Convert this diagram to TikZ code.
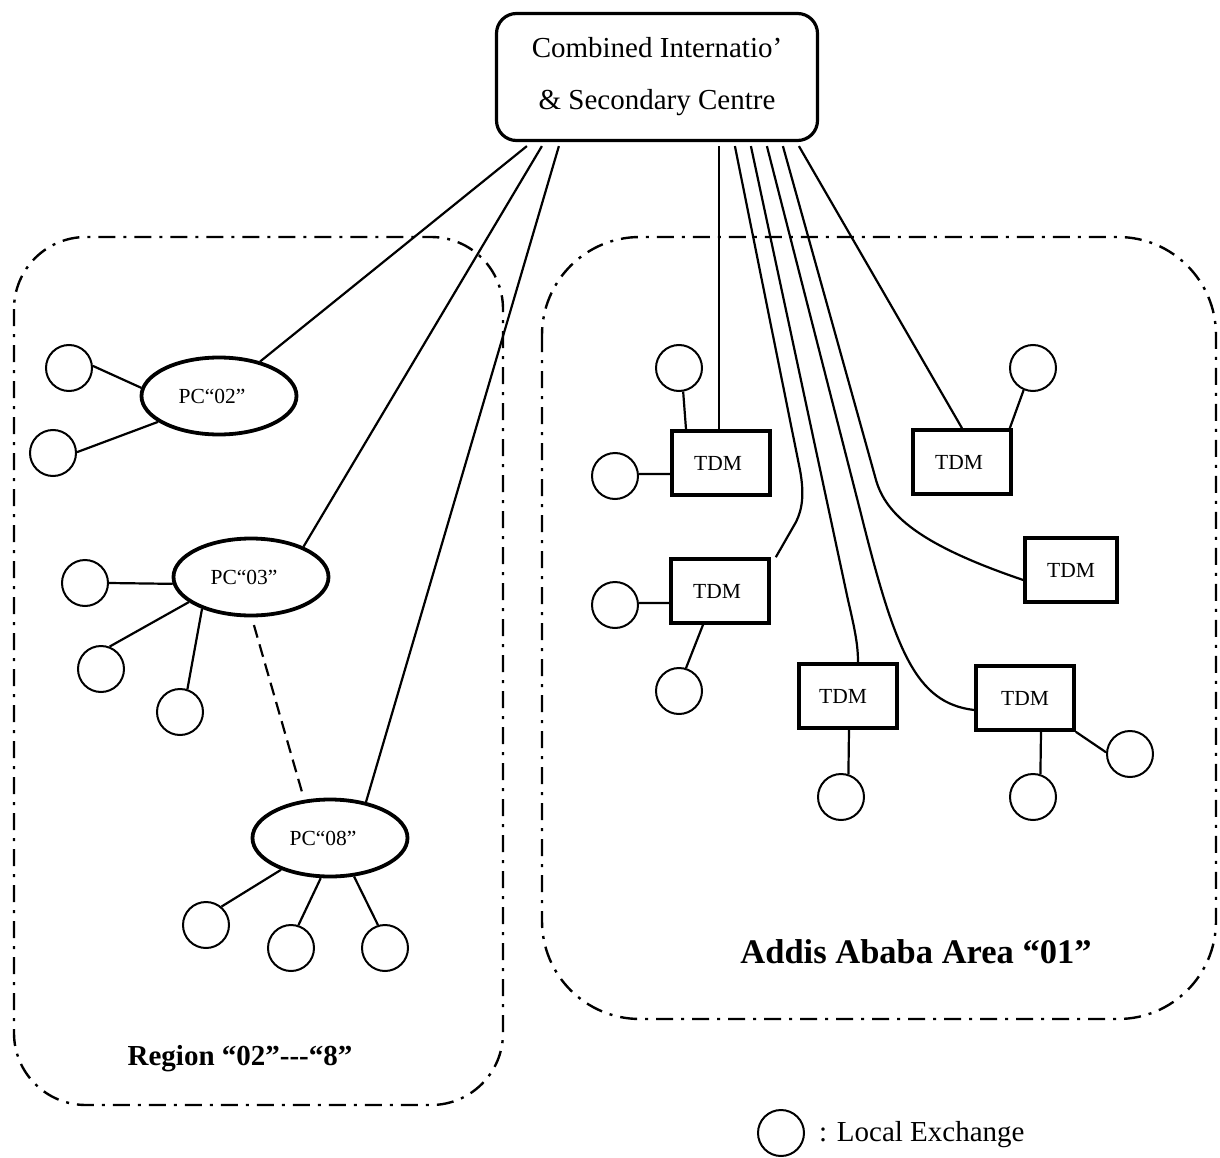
\documentclass[tikz,border=0pt]{standalone}
\usepackage{fontspec}
\setmainfont{Liberation Serif}
\usetikzlibrary{shapes.geometric}

\begin{document}
\begin{tikzpicture}[x=1pt,y=-1pt,
  conn/.style={line width=2.2pt},
  lex/.style={draw, circle, line width=2pt, minimum size=46pt, inner sep=0pt},
  pcnode/.style={draw, ellipse, line width=3.8pt, minimum width=155pt, minimum height=77pt,
                 inner sep=0pt, font=\fontsize{21.5}{24}\selectfont},
  tdm/.style={draw, rectangle, line width=3.6pt, minimum width=98pt, minimum height=64pt,
              inner sep=0pt, font=\fontsize{21.5}{24}\selectfont},
  area/.style={line width=2.4pt, dash pattern=on 17pt off 8pt on 3pt off 8pt},
  plain/.style={inner sep=0pt},
]
\useasboundingbox (0,0) rectangle (1220,1158);

% area outlines
\draw[area, rounded corners=72pt] (14,237) rectangle (503,1105);
\draw[area, rounded corners=98pt] (542,237) rectangle (1216,1019);

% centre exchange
\node[draw, rounded corners=20pt, line width=3.2pt, minimum width=321pt, minimum height=127pt,
      align=center, font=\fontsize{29}{52}\selectfont] (top) at (657,77)
      {Combined Internatio’\\\& Secondary Centre};

% trunk start points under the centre
\coordinate (s1) at ([xshift=32pt,yshift=-4pt]top.south west);
\coordinate (s2) at ([xshift=47pt,yshift=-4pt]top.south west);
\coordinate (s3) at ([xshift=64pt,yshift=-4pt]top.south west);
\coordinate (r1) at ([xshift=224pt,yshift=-4pt]top.south west);
\coordinate (r2) at ([xshift=240pt,yshift=-4pt]top.south west);
\coordinate (r3) at ([xshift=256pt,yshift=-4pt]top.south west);
\coordinate (r4) at ([xshift=272pt,yshift=-4pt]top.south west);
\coordinate (r5) at ([xshift=288pt,yshift=-4pt]top.south west);
\coordinate (r6) at ([xshift=304pt,yshift=-4pt]top.south west);

% regional primary centres
\node[pcnode] (pc02) at (219,396) {\hspace*{-14pt}PC“02”};
\node[pcnode] (pc03) at (251,577) {\hspace*{-14pt}PC“03”};
\node[pcnode] (pc08) at (330,838) {\hspace*{-14pt}PC“08”};

% local exchanges of the regions
\node[lex] (a1) at (69,368) {};
\node[lex] (a2) at (53,453) {};
\node[lex] (b1) at (85,583) {};
\node[lex] (b2) at (101,669) {};
\node[lex] (b3) at (180,712) {};
\node[lex] (c1) at (206,925) {};
\node[lex] (c2) at (291,948) {};
\node[lex] (c3) at (385,948) {};

% Addis Ababa tandems
\node[tdm] (t1) at (721,463) {\hspace*{-6pt}TDM};
\node[tdm] (t2) at (962,462) {\hspace*{-6pt}TDM};
\node[tdm] (t3) at (720,591) {\hspace*{-6pt}TDM};
\node[tdm] (t4) at (848,696) {\hspace*{-10pt}TDM};
\node[tdm] (t5) at (1025,698) {TDM};
\node[tdm, minimum width=92pt] (t6) at (1071,570) {TDM};

% local exchanges of Addis Ababa
\node[lex] (l1a) at (679,368) {};
\node[lex] (l1b) at (615,476) {};
\node[lex] (l2a) at (1033,368) {};
\node[lex] (l3a) at (615,605) {};
\node[lex] (l3b) at (679,691) {};
\node[lex] (l4a) at (841,797) {};
\node[lex] (l5a) at (1033,797) {};
\node[lex] (l5b) at (1130,754) {};

% trunks to the regions
\draw[conn] (s1) -- (pc02.40);
\draw[conn] (s2) -- (pc03.30);
\draw[conn] (s3) -- (pc08.45);
\draw[line width=2.2pt, dash pattern=on 13pt off 7pt, shorten <=8pt, shorten >=5pt]
  (pc03.271) -- (pc08.124);

% region local lines
\draw[conn] (a1.5) -- (pc02.174);
\draw[conn] (a2.2) -- (pc02.203);
\draw[conn] (b1.0) -- (pc03.185);
\draw[conn] (b2.69) -- (pc03.202);
\draw[conn] (b3.72) -- (pc03.213);
\draw[conn] (c1.50) -- (pc08.213);
\draw[conn] (c2.72) -- (pc08.257);
\draw[conn] (c3.107) -- (pc08.302);

% trunks to the tandems
\draw[conn] (r1) -- (r1 |- t1.north);
\draw[conn] (r2) -- (800,470) .. controls (804,492) and (803,508) .. (796,522)
  -- ([xshift=5pt]t3.north east);
\draw[conn] (r3) -- (848,600) .. controls (855,630) and (858,645) .. ([xshift=10pt]t4.north);
\draw[conn] (r4) -- (860,510) .. controls (895,650) and (915,703) .. ([yshift=-12pt]t5.west);
\draw[conn] (r5) -- (876,480) .. controls (886,515) and (920,545) .. ([yshift=-10pt]t6.west);
\draw[conn] (r6) -- (t2.north);

% tandem local lines
\draw[conn] (l1a.280) -- ([xshift=-35pt]t1.north);
\draw[conn] (l1b.5) -- ([yshift=-11pt]t1.west);
\draw[conn] (l2a.247) -- ([xshift=-3pt]t2.north east);
\draw[conn] (l3a.5) -- ([yshift=-12pt]t3.west);
\draw[conn] (l3b.73) -- ([xshift=-17pt]t3.south);
\draw[conn] ([xshift=1pt]t4.south) -- (l4a.72);
\draw[conn] ([xshift=16pt]t5.south) -- (l5a.72);
\draw[conn] (t5.south east) -- (l5b.176);

% captions
\node[plain, anchor=base, font=\bfseries\fontsize{29}{32}\selectfont] (rlab) at (240,1065)
  {Region “02”-{}-{}-“8”};
\node[plain, anchor=base, font=\bfseries\fontsize{34.5}{38}\selectfont] (alab) at (916,963)
  {Addis Ababa Area “01”};

% legend
\node[lex] (leg) at (781,1133) {};
\node[plain, anchor=base west, font=\fontsize{29}{34}\selectfont] (legt) at (819,1141)
  {: Local Exchange};
\end{tikzpicture}
\end{document}
